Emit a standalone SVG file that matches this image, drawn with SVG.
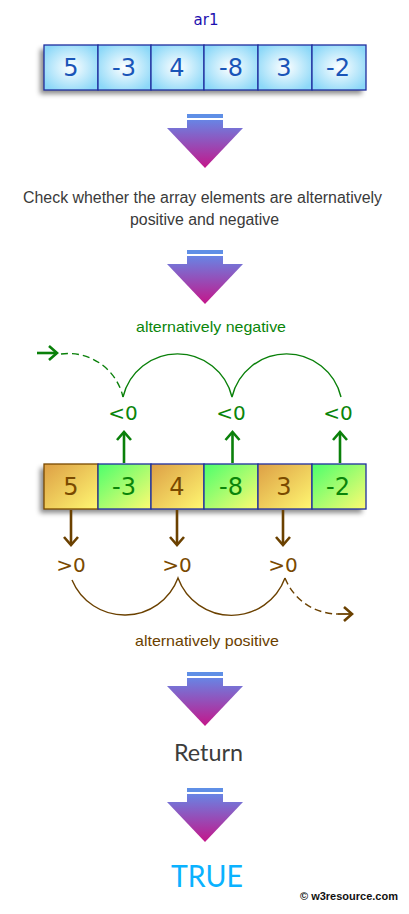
<svg xmlns="http://www.w3.org/2000/svg" width="409" height="914" viewBox="0 0 409 914">
<style>
.num{font-family:"DejaVu Sans",Verdana,sans-serif;font-size:24px;text-anchor:middle}
.blue{fill:#1a55b8}
.brn{fill:#7a4a00}
.grn{fill:#0a850a}
.cell{stroke:#1f2f9f;stroke-width:1.3}
.lbl{font-family:"DejaVu Sans",Verdana,sans-serif;font-size:20px;text-anchor:middle}
.txt{font-family:"Liberation Sans",Arial,sans-serif;font-size:16px;fill:#3a3a3a}
.small{font-family:"Liberation Sans",Arial,sans-serif;font-size:15px}
.gline{fill:none;stroke:#0a800a;stroke-width:1.4}
.garr{fill:none;stroke:#0a800a;stroke-width:2.6}
.bline{fill:none;stroke:#6b4100;stroke-width:1.4}
.barr{fill:none;stroke:#6b4100;stroke-width:2.6}
.dash{stroke-dasharray:7 4}
</style>
<defs>
<filter id="sh" x="-10%" y="-30%" width="120%" height="170%">
<feDropShadow dx="-4" dy="4" stdDeviation="2.5" flood-color="#000" flood-opacity="0.45"/>
</filter>
<radialGradient id="gBlue" cx="0.5" cy="0.5" r="0.6">
<stop offset="0" stop-color="#ffffff"/>
<stop offset="1" stop-color="#8cd8f8"/>
</radialGradient>
<linearGradient id="gOr" x1="0" y1="0" x2="1" y2="1">
<stop offset="0" stop-color="#dd9f45"/>
<stop offset="1" stop-color="#fff872"/>
</linearGradient>
<linearGradient id="gGr" x1="0" y1="0" x2="1" y2="1">
<stop offset="0" stop-color="#4cff6c"/>
<stop offset="1" stop-color="#fffa72"/>
</linearGradient>
<linearGradient id="gArr" gradientUnits="userSpaceOnUse" x1="0" y1="6" x2="0" y2="54">
<stop offset="0" stop-color="#6884e4"/>
<stop offset="1" stop-color="#c4168a"/>
</linearGradient>
<g id="bigArrow">
<rect x="-18" y="0" width="36" height="4" fill="#5f8fe6"/>
<rect x="-18" y="6" width="36" height="9" fill="url(#gArr)"/>
<polygon points="-38,14 38,14 0,54" fill="url(#gArr)"/>
</g>
<marker id="mG" markerUnits="userSpaceOnUse" markerWidth="20" markerHeight="20" refX="0" refY="0" viewBox="-10 -10 20 20" orient="auto" overflow="visible">
<path d="M -8 -7 L 0 0 L -8 7" fill="none" stroke="#0a800a" stroke-width="2.6"/>
</marker>
<marker id="mB" markerUnits="userSpaceOnUse" markerWidth="20" markerHeight="20" refX="0" refY="0" viewBox="-10 -10 20 20" orient="auto" overflow="visible">
<path d="M -8 -7 L 0 0 L -8 7" fill="none" stroke="#6b4100" stroke-width="2.6"/>
</marker>
</defs>
<rect width="409" height="914" fill="#ffffff"/>

<g id="title">
<text x="206" y="25" style="font-family:'DejaVu Sans',Verdana,sans-serif;font-size:15px;fill:#1e10b0" text-anchor="middle">ar1</text>
</g>

<g id="array1">
<rect x="44" y="45" width="322" height="45" fill="#fff" filter="url(#sh)"/>
<g id="a1c1"><rect class="cell" x="44" y="45" width="54" height="45" fill="url(#gBlue)"/><text class="num blue" x="71" y="76">5</text></g>
<g id="a1c2"><rect class="cell" x="98" y="45" width="53" height="45" fill="url(#gBlue)"/><text class="num blue" x="124" y="76">-3</text></g>
<g id="a1c3"><rect class="cell" x="151" y="45" width="53" height="45" fill="url(#gBlue)"/><text class="num blue" x="177" y="76">4</text></g>
<g id="a1c4"><rect class="cell" x="204" y="45" width="54" height="45" fill="url(#gBlue)"/><text class="num blue" x="231" y="76">-8</text></g>
<g id="a1c5"><rect class="cell" x="258" y="45" width="54" height="45" fill="url(#gBlue)"/><text class="num blue" x="284" y="76">3</text></g>
<g id="a1c6"><rect class="cell" x="312" y="45" width="54" height="45" fill="url(#gBlue)"/><text class="num blue" x="338" y="76">-2</text></g>
</g>

<g id="arrow1"><use href="#bigArrow" x="205" y="114"/></g>

<g id="step-check">
<text class="txt" x="23" y="203" textLength="359" lengthAdjust="spacingAndGlyphs">Check whether the array elements are alternatively</text>
<text class="txt" x="130" y="225" textLength="149" lengthAdjust="spacingAndGlyphs">positive and negative</text>
</g>

<g id="arrow2"><use href="#bigArrow" x="205" y="250"/></g>

<g id="label-negative">
<text class="small" x="136" y="332" fill="#0a850a" textLength="150" lengthAdjust="spacingAndGlyphs">alternatively negative</text>
</g>

<g id="neg-labels">
<text class="lbl grn" x="123" y="420">&lt;0</text>
<text class="lbl grn" x="231" y="420">&lt;0</text>
<text class="lbl grn" x="338" y="420">&lt;0</text>
</g>

<g id="array2">
<rect x="44" y="464" width="322" height="45" fill="#fff" filter="url(#sh)"/>
<g id="a2c1"><rect x="44" y="464" width="54" height="45" fill="url(#gOr)" stroke="#7a4a00" stroke-width="1.3"/><text class="num brn" x="71" y="495">5</text></g>
<g id="a2c2"><rect class="cell" x="98" y="464" width="53" height="45" fill="url(#gGr)"/><text class="num grn" x="124" y="495">-3</text></g>
<g id="a2c3"><rect class="cell" x="151" y="464" width="53" height="45" fill="url(#gOr)"/><text class="num brn" x="177" y="495">4</text></g>
<g id="a2c4"><rect class="cell" x="204" y="464" width="54" height="45" fill="url(#gGr)"/><text class="num grn" x="231" y="495">-8</text></g>
<g id="a2c5"><rect class="cell" x="258" y="464" width="54" height="45" fill="url(#gOr)"/><text class="num brn" x="284" y="495">3</text></g>
<g id="a2c6"><rect class="cell" x="312" y="464" width="54" height="45" fill="url(#gGr)"/><text class="num grn" x="338" y="495">-2</text></g>
</g>

<g id="pos-labels">
<text class="lbl brn" x="71" y="572">&gt;0</text>
<text class="lbl brn" x="177" y="572">&gt;0</text>
<text class="lbl brn" x="283" y="572">&gt;0</text>
</g>

<g id="label-positive">
<text class="small" x="135" y="646" fill="#6b4100" textLength="144" lengthAdjust="spacingAndGlyphs">alternatively positive</text>
</g>

<g id="arrow3"><use href="#bigArrow" x="205" y="672"/></g>

<g id="return">
<text x="174" y="761" style="font-family:Lato,'Open Sans',sans-serif;font-size:24px;fill:#3c3c3c" textLength="69" lengthAdjust="spacingAndGlyphs">Return</text>
</g>

<g id="arrow4"><use href="#bigArrow" x="205" y="788"/></g>

<g id="result">
<text x="171" y="887" style="font-family:Lato,'Open Sans',sans-serif;font-size:30px;fill:#0ab2ff" textLength="72" lengthAdjust="spacingAndGlyphs">TRUE</text>
</g>

<g id="connectors">
<path class="garr" d="M 37 353 L 57 353" marker-end="url(#mG)"/>
<path class="gline dash" d="M 61 354 A 56 56 0 0 1 123 397"/>
<path class="gline" d="M 123 397 A 56 56 0 0 1 232 397 A 56 56 0 0 1 341 397"/>
<path class="garr" d="M 124 463 L 124 432" marker-end="url(#mG)"/>
<path class="garr" d="M 232.5 463 L 232.5 432" marker-end="url(#mG)"/>
<path class="garr" d="M 340 463 L 340 432" marker-end="url(#mG)"/>
<path class="barr" d="M 71 510 L 71 545" marker-end="url(#mB)"/>
<path class="barr" d="M 177 510 L 177 545" marker-end="url(#mB)"/>
<path class="barr" d="M 283 510 L 283 545" marker-end="url(#mB)"/>
<path class="bline" d="M 72 580 A 57 57 0 0 0 178 578 A 57 57 0 0 0 285 578"/>
<path class="bline dash" d="M 285 578 A 57 57 0 0 0 338 614"/>
<path class="bline" d="M 338 614 L 352 614" marker-end="url(#mB)" style="stroke-width:1.8"/>
</g>

<g id="watermark">
<text x="300" y="900" style="font-family:'Liberation Sans',Arial,sans-serif;font-size:11px;font-weight:bold;fill:#111">© w3resource.com</text>
</g>
</svg>
